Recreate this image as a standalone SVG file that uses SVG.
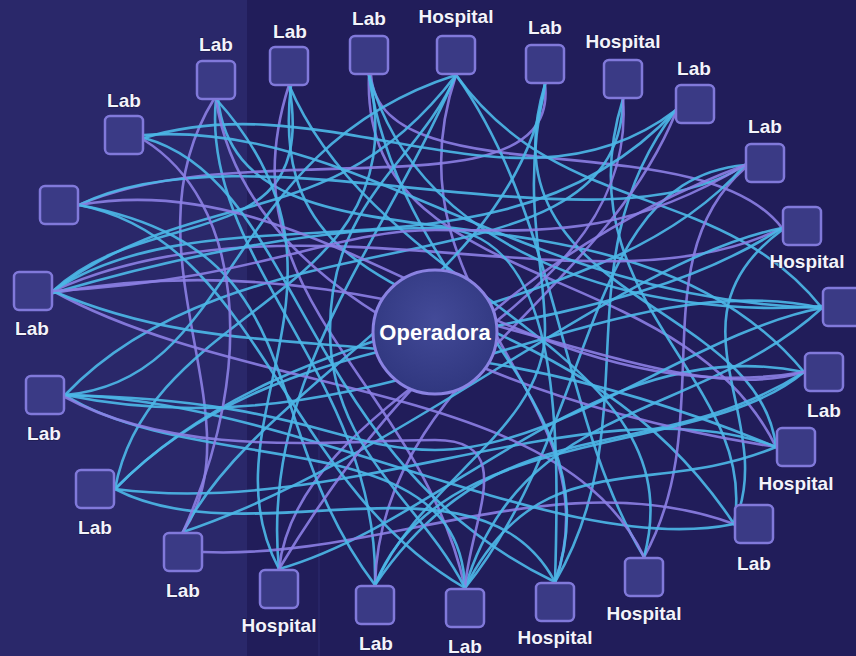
<svg xmlns="http://www.w3.org/2000/svg" width="856" height="656" viewBox="0 0 856 656">
<defs>
<radialGradient id="cg" cx="50%" cy="40%" r="60%">
<stop offset="0" stop-color="#434a98"/>
<stop offset="1" stop-color="#30377f"/>
</radialGradient>
<style>
.bg{fill:#211d5a}
.panel{fill:#2a286a}
.c{fill:none;stroke:#4cb6e6;stroke-width:2.6;stroke-linecap:round;opacity:0.92}
.v{fill:none;stroke:#8c7fe4;stroke-width:2.6;stroke-linecap:round;opacity:0.9}
.box{fill:#3a3a85;stroke:#8179da;stroke-width:2.5}
.lbl{font-family:"Liberation Sans",Arial,sans-serif;font-weight:bold;font-size:19px;fill:#f3f3fb;text-anchor:middle;paint-order:stroke;stroke:#1a1848;stroke-width:1.2}
.hub{fill:url(#cg);stroke:#8a82e2;stroke-width:3}
.hubt{font-family:"Liberation Sans",Arial,sans-serif;font-weight:bold;font-size:22px;fill:#ffffff;text-anchor:middle}
</style>
</defs>
<rect class="bg" x="0" y="0" width="856" height="656"/>
<rect class="panel" x="0" y="0" width="247" height="656"/>
<rect x="318" y="430" width="2" height="226" fill="#2c2a6c" opacity="0.6"/>
<g id="connectors">
<path class="c" d="M216,99 C200,260 380,380 375,585"/>
<path class="c" d="M218,99 C240,300 620,150 804,372"/>
<path class="v" d="M214,99 C120,250 260,420 183,532"/>
<path class="c" d="M289,85 C320,260 150,200 53,291"/>
<path class="c" d="M291,85 C260,350 560,260 734,524"/>
<path class="v" d="M289,85 C220,300 420,380 465,588"/>
<path class="v" d="M369,75 C360,300 680,250 776,447"/>
<path class="c" d="M369,75 C420,300 150,300 115,489"/>
<path class="v" d="M371,75 C380,200 700,120 782,228"/>
<path class="c" d="M456,75 C330,240 200,180 53,291"/>
<path class="c" d="M456,75 C380,250 260,380 279,569"/>
<path class="c" d="M456,75 C560,220 560,420 644,557"/>
<path class="c" d="M456,75 C560,220 720,180 822,308"/>
<path class="v" d="M456,75 C380,300 620,400 555,582"/>
<path class="v" d="M545,84 C560,220 250,130 79,205"/>
<path class="c" d="M545,84 C480,300 760,300 776,447"/>
<path class="c" d="M623,99 C560,300 760,380 734,524"/>
<path class="c" d="M623,99 C620,300 250,200 65,395"/>
<path class="v" d="M623,99 C640,320 300,380 279,569"/>
<path class="c" d="M676,110 C520,230 330,80 144,138"/>
<path class="c" d="M676,110 C560,260 650,420 555,582"/>
<path class="v" d="M676,112 C600,300 380,380 375,585"/>
<path class="c" d="M745,165 C600,260 250,120 79,205"/>
<path class="c" d="M745,165 C580,180 600,420 465,588"/>
<path class="v" d="M745,168 C640,260 720,420 644,557"/>
<path class="c" d="M745,165 C600,330 300,300 115,489"/>
<path class="v" d="M782,228 C600,320 300,180 53,291"/>
<path class="c" d="M782,228 C620,260 400,460 183,532"/>
<path class="c" d="M782,230 C660,320 780,420 734,524"/>
<path class="c" d="M822,308 C600,260 380,460 65,395"/>
<path class="c" d="M822,306 C650,320 420,260 369,75"/>
<path class="c" d="M804,372 C600,330 450,520 279,569"/>
<path class="v" d="M804,372 C650,420 400,230 53,293"/>
<path class="c" d="M804,372 C650,470 500,400 375,585"/>
<path class="c" d="M776,447 C600,380 350,520 115,489"/>
<path class="v" d="M776,447 C600,420 250,330 216,99"/>
<path class="v" d="M734,524 C560,460 380,560 203,552"/>
<path class="c" d="M734,524 C560,560 300,400 65,395"/>
<path class="c" d="M644,557 C700,350 380,300 289,85"/>
<path class="v" d="M644,557 C560,380 250,400 53,291"/>
<path class="c" d="M555,582 C620,400 400,300 369,75"/>
<path class="c" d="M555,582 C480,440 250,560 115,489"/>
<path class="c" d="M465,588 C460,420 200,480 65,395"/>
<path class="c" d="M465,588 C520,400 700,420 822,308"/>
<path class="c" d="M465,588 C540,440 650,500 776,447"/>
<path class="c" d="M375,585 C440,420 700,460 804,372"/>
<path class="c" d="M375,585 C250,420 320,250 79,205"/>
<path class="c" d="M279,569 C200,420 380,280 216,99"/>
<path class="v" d="M279,569 C380,400 520,250 745,165"/>
<path class="c" d="M183,532 C260,380 520,280 545,84"/>
<path class="c" d="M115,489 C300,300 580,360 782,228"/>
<path class="c" d="M65,395 C240,380 220,150 456,75"/>
<path class="c" d="M53,291 C220,180 500,300 676,110"/>
<path class="c" d="M53,291 C260,380 420,300 776,447"/>
<path class="v" d="M79,205 C330,160 520,420 804,372"/>
<path class="c" d="M79,205 C260,240 280,480 465,588"/>
<path class="c" d="M144,135 C360,120 520,300 822,308"/>
<path class="c" d="M144,138 C300,180 300,460 555,582"/>
<path class="v" d="M144,140 C240,200 260,360 183,532"/>
<path class="c" d="M53,293 C200,250 330,228 435,228 C560,228 560,420 555,582"/>
<path class="v" d="M65,397 C180,460 340,440 435,440 C520,440 470,520 465,588"/>
<path class="c" d="M456,75 C420,160 330,200 330,330 C330,450 420,500 465,588"/>
<path class="c" d="M545,84 C520,200 545,260 545,330 C545,430 420,480 375,585"/>
<path class="c" d="M822,308 C700,330 560,450 435,450 C340,450 300,400 65,395"/>
<path class="v" d="M745,165 C620,240 540,230 435,230 C330,230 260,280 53,291"/>
</g>
<g id="operadora">
<circle class="hub" cx="435" cy="332" r="62"/>
<text class="hubt" x="435" y="340">Operadora</text>
</g>
<g id="n1"><rect class="box" x="197" y="61" width="38" height="38" rx="5"/><text class="lbl" x="216" y="51">Lab</text></g>
<g id="n2"><rect class="box" x="270" y="47" width="38" height="38" rx="5"/><text class="lbl" x="290" y="38">Lab</text></g>
<g id="n3"><rect class="box" x="350" y="36" width="38" height="38" rx="5"/><text class="lbl" x="369" y="25">Lab</text></g>
<g id="n4"><rect class="box" x="437" y="36" width="38" height="38" rx="5"/><text class="lbl" x="456" y="23">Hospital</text></g>
<g id="n5"><rect class="box" x="526" y="45" width="38" height="38" rx="5"/><text class="lbl" x="545" y="34">Lab</text></g>
<g id="n6"><rect class="box" x="604" y="60" width="38" height="38" rx="5"/><text class="lbl" x="623" y="48">Hospital</text></g>
<g id="n7"><rect class="box" x="676" y="85" width="38" height="38" rx="5"/><text class="lbl" x="694" y="75">Lab</text></g>
<g id="n8"><rect class="box" x="746" y="144" width="38" height="38" rx="5"/><text class="lbl" x="765" y="133">Lab</text></g>
<g id="n9"><rect class="box" x="783" y="207" width="38" height="38" rx="5"/><text class="lbl" x="807" y="268">Hospital</text></g>
<g id="n10"><rect class="box" x="823" y="288" width="38" height="38" rx="5"/></g>
<g id="n11"><rect class="box" x="805" y="353" width="38" height="38" rx="5"/><text class="lbl" x="824" y="417">Lab</text></g>
<g id="n12"><rect class="box" x="777" y="428" width="38" height="38" rx="5"/><text class="lbl" x="796" y="490">Hospital</text></g>
<g id="n13"><rect class="box" x="735" y="505" width="38" height="38" rx="5"/><text class="lbl" x="754" y="570">Lab</text></g>
<g id="n14"><rect class="box" x="625" y="558" width="38" height="38" rx="5"/><text class="lbl" x="644" y="620">Hospital</text></g>
<g id="n15"><rect class="box" x="536" y="583" width="38" height="38" rx="5"/><text class="lbl" x="555" y="644">Hospital</text></g>
<g id="n16"><rect class="box" x="446" y="589" width="38" height="38" rx="5"/><text class="lbl" x="465" y="653">Lab</text></g>
<g id="n17"><rect class="box" x="356" y="586" width="38" height="38" rx="5"/><text class="lbl" x="376" y="650">Lab</text></g>
<g id="n18"><rect class="box" x="260" y="570" width="38" height="38" rx="5"/><text class="lbl" x="279" y="632">Hospital</text></g>
<g id="n19"><rect class="box" x="164" y="533" width="38" height="38" rx="5"/><text class="lbl" x="183" y="597">Lab</text></g>
<g id="n20"><rect class="box" x="76" y="470" width="38" height="38" rx="5"/><text class="lbl" x="95" y="534">Lab</text></g>
<g id="n21"><rect class="box" x="26" y="376" width="38" height="38" rx="5"/><text class="lbl" x="44" y="440">Lab</text></g>
<g id="n22"><rect class="box" x="14" y="272" width="38" height="38" rx="5"/><text class="lbl" x="32" y="335">Lab</text></g>
<g id="n23"><rect class="box" x="40" y="186" width="38" height="38" rx="5"/></g>
<g id="n24"><rect class="box" x="105" y="116" width="38" height="38" rx="5"/><text class="lbl" x="124" y="107">Lab</text></g>
</svg>
